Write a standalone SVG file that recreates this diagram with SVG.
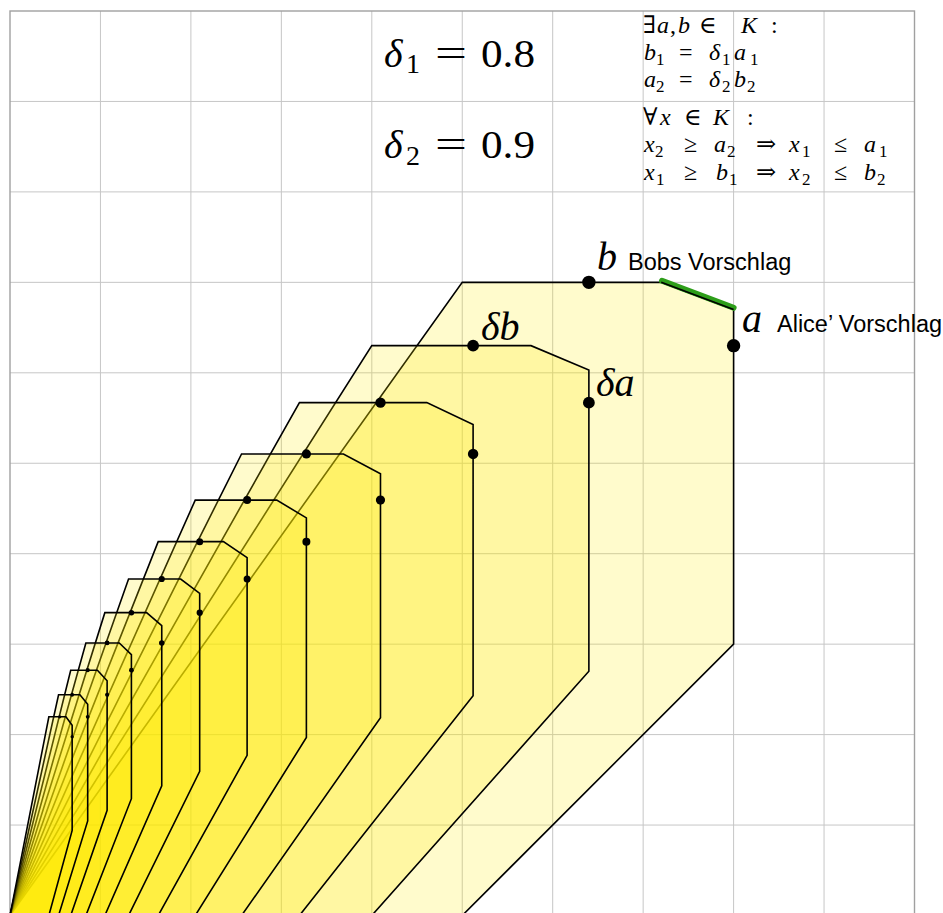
<svg xmlns="http://www.w3.org/2000/svg" width="943" height="913" viewBox="0 0 943 913">
<style>
.g{stroke:#c6c6c6;stroke-width:1;fill:none}
.frame{stroke:#a0a0a0;stroke-width:1.4;fill:none}
.reg{fill:#ffeb00;fill-opacity:0.2;stroke:#000;stroke-width:1.6;vector-effect:non-scaling-stroke;stroke-linejoin:miter}
.pt{fill:#000}
.m{font-family:'Liberation Serif','DejaVu Serif',serif;fill:#000}
.c{font-size:24px}
.i{font-style:italic}
.s{font-size:17px}
.o{font-size:24px}
.lab{font-family:'Liberation Sans',Arial,sans-serif;font-size:23.5px;fill:#000}
</style>
<rect x="0" y="0" width="943" height="913" fill="#fff"/>
<g id="grid">
<path class="g" d="M100.45 11V915.5M190.9 11V915.5M281.35 11V915.5M371.8 11V915.5M462.25 11V915.5M552.7 11V915.5M643.15 11V915.5M733.6 11V915.5M824.05 11V915.5M10 101.45H914.5M10 191.9H914.5M10 282.35H914.5M10 372.8H914.5M10 463.25H914.5M10 553.7H914.5M10 644.15H914.5M10 734.6H914.5M10 825.05H914.5"/>
<rect class="frame" x="10" y="11" width="904.5" height="904.5"/>
</g>
<g id="regions">
<polygon id="K0" class="reg" transform="matrix(90.45 0 0 -90.45 10 915.5)" points="0,0 5,7 7.2,7 8,6.7 8,3 5,0"/>
<polygon id="K1" class="reg" transform="matrix(72.36 0 0 -81.405 10 915.5)" points="0,0 5,7 7.2,7 8,6.7 8,3 5,0"/>
<polygon id="K2" class="reg" transform="matrix(57.888 0 0 -73.2645 10 915.5)" points="0,0 5,7 7.2,7 8,6.7 8,3 5,0"/>
<polygon id="K3" class="reg" transform="matrix(46.3104 0 0 -65.938 10 915.5)" points="0,0 5,7 7.2,7 8,6.7 8,3 5,0"/>
<polygon id="K4" class="reg" transform="matrix(37.048 0 0 -59.344 10 915.5)" points="0,0 5,7 7.2,7 8,6.7 8,3 5,0"/>
<polygon id="K5" class="reg" transform="matrix(29.639 0 0 -53.410 10 915.5)" points="0,0 5,7 7.2,7 8,6.7 8,3 5,0"/>
<polygon id="K6" class="reg" transform="matrix(23.711 0 0 -48.069 10 915.5)" points="0,0 5,7 7.2,7 8,6.7 8,3 5,0"/>
<polygon id="K7" class="reg" transform="matrix(18.969 0 0 -43.262 10 915.5)" points="0,0 5,7 7.2,7 8,6.7 8,3 5,0"/>
<polygon id="K8" class="reg" transform="matrix(15.175 0 0 -38.936 10 915.5)" points="0,0 5,7 7.2,7 8,6.7 8,3 5,0"/>
<polygon id="K9" class="reg" transform="matrix(12.140 0 0 -35.042 10 915.5)" points="0,0 5,7 7.2,7 8,6.7 8,3 5,0"/>
<polygon id="K10" class="reg" transform="matrix(9.712 0 0 -31.538 10 915.5)" points="0,0 5,7 7.2,7 8,6.7 8,3 5,0"/>
<polygon id="K11" class="reg" transform="matrix(7.770 0 0 -28.384 10 915.5)" points="0,0 5,7 7.2,7 8,6.7 8,3 5,0"/>
</g>
<g id="pareto">
<line x1="662" y1="280.8" x2="733.6" y2="307.8" stroke="#2e9e1a" stroke-width="6" stroke-linecap="round"/>
<line x1="661.24" y1="282.35" x2="733.6" y2="309.5" stroke="#000" stroke-width="1.6"/>
</g>
<g id="points">
<circle class="pt" cx="588.88" cy="282.35" r="6.7"/><circle class="pt" cx="733.6" cy="345.67" r="6.7"/>
<circle class="pt" cx="473.1" cy="345.67" r="5.9"/><circle class="pt" cx="588.88" cy="402.65" r="5.9"/>
<circle class="pt" cx="380.48" cy="402.65" r="5.2"/><circle class="pt" cx="473.1" cy="453.93" r="5.2"/>
<circle class="pt" cx="306.39" cy="453.93" r="4.6"/><circle class="pt" cx="380.48" cy="500.09" r="4.6"/>
<circle class="pt" cx="247.11" cy="500.09" r="4.0"/><circle class="pt" cx="306.39" cy="541.63" r="4.0"/>
<circle class="pt" cx="199.69" cy="541.63" r="3.5"/><circle class="pt" cx="247.11" cy="579.02" r="3.5"/>
<circle class="pt" cx="161.75" cy="579.02" r="3.1"/><circle class="pt" cx="199.69" cy="612.67" r="3.1"/>
<circle class="pt" cx="131.4" cy="612.67" r="2.75"/><circle class="pt" cx="161.75" cy="642.95" r="2.75"/>
<circle class="pt" cx="107.12" cy="642.95" r="2.4"/><circle class="pt" cx="131.4" cy="670.2" r="2.4"/>
<circle class="pt" cx="87.7" cy="670.2" r="2.1"/><circle class="pt" cx="107.12" cy="694.74" r="2.1"/>
<circle class="pt" cx="72.16" cy="694.74" r="1.9"/><circle class="pt" cx="87.7" cy="716.81" r="1.9"/>
<circle class="pt" cx="59.73" cy="716.81" r="1.65"/><circle class="pt" cx="72.16" cy="736.68" r="1.65"/>
</g>
<g id="labels">
<text class="m i" x="597" y="270" font-size="40">b</text>
<text class="lab" x="628" y="270">Bobs Vorschlag</text>
<text class="m i" x="742" y="332" font-size="40">a</text>
<text class="lab" x="777" y="332">Alice’ Vorschlag</text>
<text class="m i" x="481" y="340" font-size="40">δb</text>
<text class="m i" x="596" y="396" font-size="40">δa</text>
</g>
<g id="deltas">
<text class="m" font-size="40"><tspan class="i" x="384" y="66.5">δ</tspan><tspan x="406" y="73" font-size="28">1</tspan><tspan x="435" y="66.5" textLength="32" lengthAdjust="spacingAndGlyphs">=</tspan><tspan x="481" y="66.5" textLength="54" lengthAdjust="spacingAndGlyphs">0.8</tspan></text>
<text class="m" font-size="40"><tspan class="i" x="384" y="158">δ</tspan><tspan x="406" y="164.5" font-size="28">2</tspan><tspan x="435" y="158" textLength="32" lengthAdjust="spacingAndGlyphs">=</tspan><tspan x="481" y="158" textLength="54" lengthAdjust="spacingAndGlyphs">0.9</tspan></text>
</g>
<g id="conditions">
<text class="m c"><tspan x="643" y="33">∃</tspan><tspan class="i" x="657" y="33">a</tspan><tspan x="670" y="33">,</tspan><tspan class="i" x="678" y="33">b</tspan><tspan class="o" x="699" y="33">∈</tspan><tspan class="i" x="741" y="33">K</tspan><tspan x="771" y="33">:</tspan></text>
<text class="m c"><tspan class="i" x="644" y="60">b</tspan><tspan class="s" x="656" y="64.5">1</tspan><tspan class="o" x="679" y="60">=</tspan><tspan class="i" x="709" y="60">δ</tspan><tspan class="s" x="722" y="64.5">1</tspan><tspan class="i" x="734" y="60">a</tspan><tspan class="s" x="750" y="64.5">1</tspan></text>
<text class="m c"><tspan class="i" x="644" y="87">a</tspan><tspan class="s" x="656" y="91.5">2</tspan><tspan class="o" x="679" y="87">=</tspan><tspan class="i" x="709" y="87">δ</tspan><tspan class="s" x="722" y="91.5">2</tspan><tspan class="i" x="734" y="87">b</tspan><tspan class="s" x="747" y="91.5">2</tspan></text>
<text class="m c"><tspan x="643" y="125">∀</tspan><tspan class="i" x="660" y="125">x</tspan><tspan class="o" x="684" y="125">∈</tspan><tspan class="i" x="713" y="125">K</tspan><tspan x="747" y="125">:</tspan></text>
<text class="m c"><tspan class="i" x="644" y="152">x</tspan><tspan class="s" x="655" y="156.5">2</tspan><tspan class="o" x="684" y="152">≥</tspan><tspan class="i" x="714" y="152">a</tspan><tspan class="s" x="727" y="156.5">2</tspan><tspan class="o" x="756" y="152">⇒</tspan><tspan class="i" x="789" y="152">x</tspan><tspan class="s" x="802" y="156.5">1</tspan><tspan class="o" x="834" y="152">≤</tspan><tspan class="i" x="864" y="152">a</tspan><tspan class="s" x="879" y="156.5">1</tspan></text>
<text class="m c"><tspan class="i" x="644" y="180">x</tspan><tspan class="s" x="656" y="184.5">1</tspan><tspan class="o" x="684" y="180">≥</tspan><tspan class="i" x="716" y="180">b</tspan><tspan class="s" x="729" y="184.5">1</tspan><tspan class="o" x="756" y="180">⇒</tspan><tspan class="i" x="789" y="180">x</tspan><tspan class="s" x="802" y="184.5">2</tspan><tspan class="o" x="834" y="180">≤</tspan><tspan class="i" x="864" y="180">b</tspan><tspan class="s" x="877" y="184.5">2</tspan></text>
</g>
</svg>
